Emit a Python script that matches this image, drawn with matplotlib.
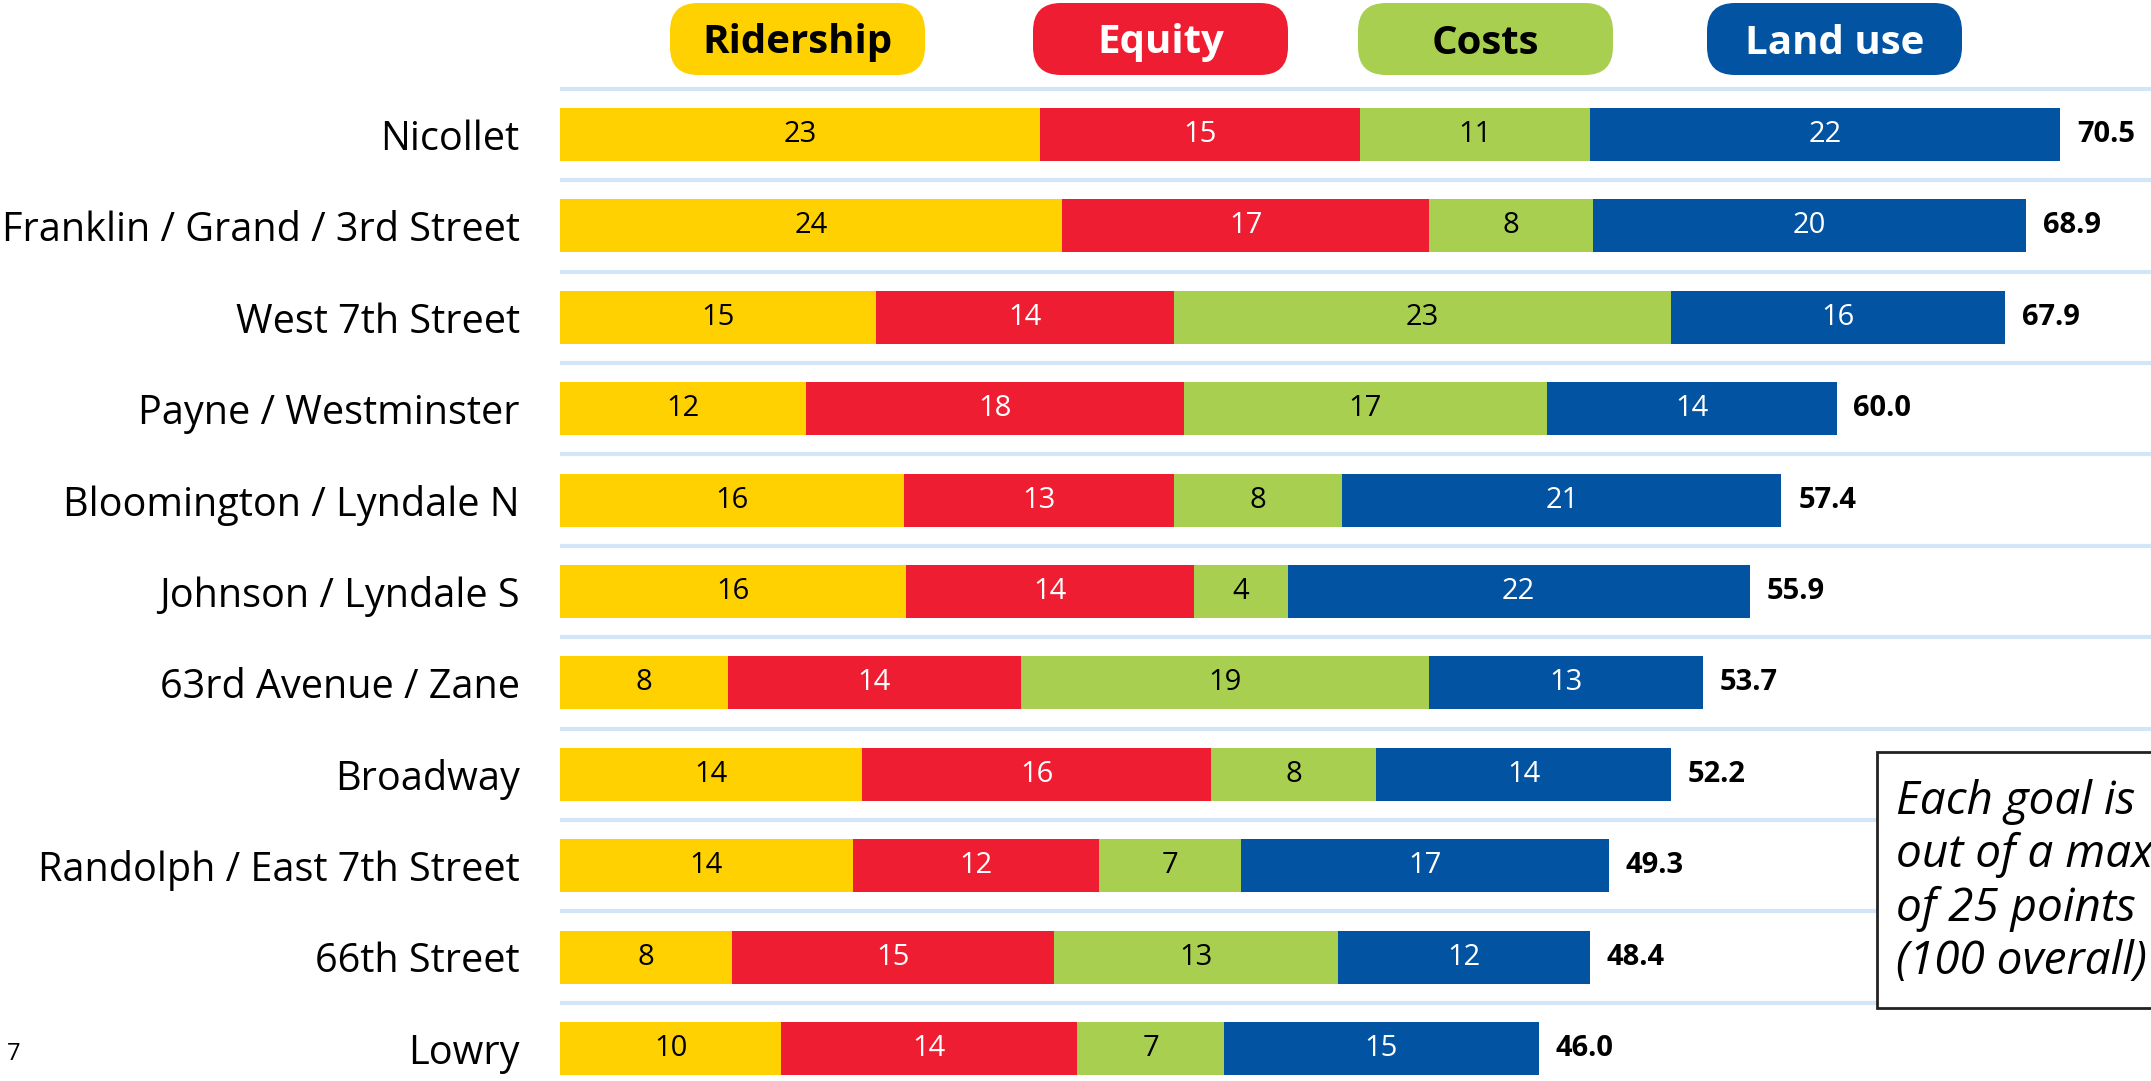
import matplotlib.pyplot as plt
from matplotlib.patches import FancyBboxPatch, Rectangle
import numpy as np

plt.rcParams['font.family'] = ['Open Sans', 'DejaVu Sans']

# routes, top to bottom
routes = ["Nicollet", "Franklin / Grand / 3rd Street", "West 7th Street", "Payne / Westminster",
          "Bloomington / Lyndale N", "Johnson / Lyndale S", "63rd Avenue / Zane", "Broadway",
          "Randolph / East 7th Street", "66th Street", "Lowry"]

# scores
ridership = [22.55, 23.6, 14.85, 11.55, 16.15, 16.25, 7.9, 14.2, 13.75, 8.1, 10.4]
equity = [15.05, 17.25, 14.0, 17.75, 12.7, 13.55, 13.75, 16.4, 11.6, 15.1, 13.9]
costs = [10.8, 7.7, 23.35, 17.1, 7.9, 4.4, 19.2, 7.75, 6.65, 13.35, 6.9]
land_use = [22.1, 20.35, 15.7, 13.6, 20.65, 21.7, 12.85, 13.85, 17.3, 11.85, 14.8]

# printed labels
ridership_lbl = [23, 24, 15, 12, 16, 16, 8, 14, 14, 8, 10]
equity_lbl = [15, 17, 14, 18, 13, 14, 14, 16, 12, 15, 14]
costs_lbl = [11, 8, 23, 17, 8, 4, 19, 8, 7, 13, 7]
land_use_lbl = [22, 20, 16, 14, 21, 22, 13, 14, 17, 12, 15]
totals = [70.5, 68.9, 67.9, 60.0, 57.4, 55.9, 53.7, 52.2, 49.3, 48.4, 46.0]

goals = ["Ridership", "Equity", "Costs", "Land use"]
colors = ["#FFD100", "#EE1D31", "#A8CF50", "#0254A2"]
text_colors = ["black", "white", "black", "white"]

W, H = 2151, 1081
fig = plt.figure(figsize=(W / 100, H / 100), dpi=100)

left_px = 560
px_per_unit = 21.28
row0_px = 134.5
pitch_px = 91.4

ax = fig.add_axes([left_px / W, 0, 1 - left_px / W, 1])
ax.set_xlim(0, (W - left_px) / px_per_unit)
ax.set_ylim((H - row0_px) / pitch_px, -row0_px / pitch_px)
for s in ax.spines.values():
    s.set_visible(False)
ax.tick_params(axis='x', bottom=False, labelbottom=False)

y = np.arange(len(routes))
for g in np.arange(-0.5, len(routes) - 1, 1.0):
    ax.axhline(g, color="#D3E6F8", lw=3, zorder=0)

series = [ridership, equity, costs, land_use]
labels = [ridership_lbl, equity_lbl, costs_lbl, land_use_lbl]
lefts = np.zeros(len(routes))
for vals, lbls, c, tc in zip(series, labels, colors, text_colors):
    vals = np.array(vals)
    ax.barh(y, vals, left=lefts, height=0.58, color=c, zorder=2)
    for yi, l, v, lab in zip(y, lefts, vals, lbls):
        ax.text(l + v / 2, yi, str(lab), ha='center', va='center', color=tc,
                fontsize=21, zorder=3)
    lefts += vals

for yi, end, tot in zip(y, lefts, totals):
    ax.annotate(f"{tot:.1f}", (end, yi), xytext=(12, 0), textcoords='offset points',
                ha='left', va='center', fontsize=21, fontweight='bold')

ax.set_yticks(y)
ax.set_yticklabels(routes, fontsize=28.5)
ax.tick_params(axis='y', length=0, pad=29)

# overlay in pixel units for legend pills and note box
ov = fig.add_axes([0, 0, 1, 1], zorder=5)
ov.set_xlim(0, W)
ov.set_ylim(H, 0)
ov.axis('off')
ov.patch.set_alpha(0)

pill_x = [670, 1033, 1358, 1707]
for px, name, c, tc in zip(pill_x, goals, colors, text_colors):
    ov.add_patch(FancyBboxPatch((px, 3), 255, 72, boxstyle="round,pad=0,rounding_size=28",
                                fc=c, ec='none'))
    ov.text(px + 127.5, 43, name, ha='center', va='center', color=tc,
            fontsize=29, fontweight='bold')

ov.add_patch(Rectangle((1877, 752), 400, 256, fc='white', ec='#222222', lw=2))
ov.text(1896, 882, "Each goal is\nout of a max\nof 25 points\n(100 overall)",
        ha='left', va='center', fontsize=33, style='italic', linespacing=1.2)

fig.text(14 / W, 1 - 1054 / H, "7", ha='center', va='center', fontsize=17)

fig.savefig("out.png", dpi=100)
